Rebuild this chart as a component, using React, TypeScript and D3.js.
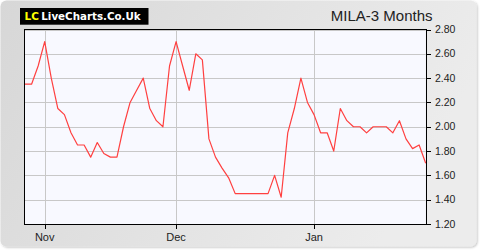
import React from 'react';
import * as d3 from 'd3';

const prices: number[] = [
  2.35, 2.35, 2.5, 2.7, 2.4, 2.15, 2.1, 1.95, 1.85, 1.85,
  1.75, 1.87, 1.78, 1.75, 1.75, 2.0, 2.2, 2.3, 2.4, 2.15,
  2.05, 2.0, 2.5, 2.7, 2.5, 2.3, 2.6, 2.55, 1.9, 1.75,
  1.66, 1.58, 1.45, 1.45, 1.45, 1.45, 1.45, 1.45, 1.6, 1.42,
  1.95, 2.15, 2.4, 2.2, 2.1, 1.95, 1.95, 1.8, 2.15, 2.05,
  2.0, 2.0, 1.95, 2.0, 2.0, 2.0, 1.95, 2.05, 1.9, 1.82,
  1.85, 1.7,
];
const monthLabels: string[] = ['Nov', 'Dec', 'Jan'];
const monthStartIndex: number[] = [3, 23, 44];
const yTickValues: number[] = [1.2, 1.4, 1.6, 1.8, 2.0, 2.2, 2.4, 2.6, 2.8];
const title = 'MILA-3 Months';

export default function App() {
  const W = 480;
  const H = 250;
  const left = 25;
  const right = 425.7;
  const top = 29.5;
  const bottom = 224;
  const x = d3.scaleLinear().domain([0, prices.length - 1]).range([left, right]);
  const y = d3.scaleLinear().domain([1.2, 2.8]).range([bottom, top]);
  const line = d3
    .line<number>()
    .x((_d, i) => x(i))
    .y((d) => y(d));
  const crisp = (v: number) => Math.round(v) + 0.5;
  const font = "Arial, 'Liberation Sans', sans-serif";

  return (
    <svg
      width={W}
      height={H}
      style={{ position: 'absolute', left: 0, top: 0, display: 'block' }}
      xmlns="http://www.w3.org/2000/svg"
    >
      <defs>
        <linearGradient id="bg" x1="0" y1="0" x2="1" y2="0.3">
          <stop offset="0" stopColor="#d7d7d7" />
          <stop offset="1" stopColor="#ececec" />
        </linearGradient>
        <filter id="sh" x="-5%" y="-5%" width="110%" height="110%">
          <feDropShadow dx="1" dy="1" stdDeviation="1" floodColor="#000" floodOpacity="0.25" />
        </filter>
      </defs>
      <rect x={0} y={0} width={W} height={H} fill="#ffffff" />
      <rect x={0.5} y={0.5} width={476} height={246} rx={6} fill="url(#bg)" filter="url(#sh)" />

      {/* logo */}
      <rect x={20} y={8} width={128.5} height={16.7} fill="#000" />
      <text x={24.5} y={20.2} fontFamily="'DejaVu Sans', Verdana, sans-serif" fontWeight="bold" fontSize={10.5} fill="#ffff00">
        LC
      </text>
      <text x={41.3} y={20.2} fontFamily="'DejaVu Sans', Verdana, sans-serif" fontWeight="bold" fontSize={10.3} fill="#ffffff">
        LiveCharts.Co.Uk
      </text>

      {/* title */}
      <text x={432.5} y={21} textAnchor="end" fontFamily={font} fontSize={15} fill="#222">
        {title}
      </text>

      {/* plot background */}
      <rect x={left} y={top} width={right - left} height={bottom - top} fill="#f8f9ff" />

      {/* grid */}
      {yTickValues.map((v) => (
        <line key={'gy' + v} x1={left} x2={right} y1={crisp(y(v))} y2={crisp(y(v))} stroke="#c8c8c8" strokeWidth={1} />
      ))}
      {monthStartIndex.map((idx, k) => (
        <line key={'gx' + k} x1={crisp(x(idx))} x2={crisp(x(idx))} y1={top} y2={bottom} stroke="#c8c8c8" strokeWidth={1} />
      ))}

      {/* price line */}
      <path d={line(prices) || ''} fill="none" stroke="#ff4040" strokeWidth={1.2} strokeLinejoin="round" />

      {/* frame */}
      <rect x={crisp(left) - 1} y={crisp(top) - 1} width={Math.round(right) - Math.round(left) + 1} height={Math.round(bottom) - Math.round(top) + 1} fill="none" stroke="#000" strokeWidth={1} />

      {/* y axis ticks and labels */}
      {yTickValues.map((v) => (
        <g key={'ty' + v}>
          <line x1={Math.round(right)} x2={Math.round(right) + 5} y1={crisp(y(v))} y2={crisp(y(v))} stroke="#000" strokeWidth={1} />
          <text x={435} y={y(v)} dy="0.35em" fontFamily={font} fontSize={10.5} fill="#222">
            {v.toFixed(2)}
          </text>
        </g>
      ))}

      {/* x axis ticks and labels */}
      {monthStartIndex.map((idx, k) => (
        <g key={'tx' + k}>
          <line x1={crisp(x(idx))} x2={crisp(x(idx))} y1={Math.round(bottom)} y2={Math.round(bottom) + 5} stroke="#000" strokeWidth={1} />
          <text x={x(idx)} y={240.5} textAnchor="middle" fontFamily={font} fontSize={11} fill="#222">
            {monthLabels[k]}
          </text>
        </g>
      ))}
    </svg>
  );
}
